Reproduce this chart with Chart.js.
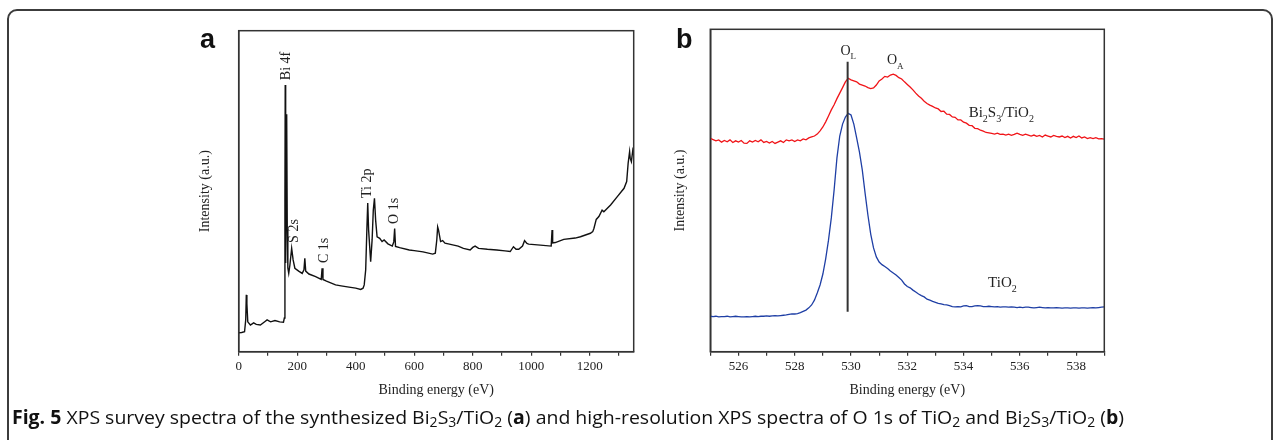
<!DOCTYPE html>
<html>
<head>
<meta charset="utf-8">
<script src="https://cdn.jsdelivr.net/npm/chart.js@4.4.1/dist/chart.umd.min.js"></script>
<style>
html,body{margin:0;padding:0;background:#fff;width:1281px;height:440px;overflow:hidden;position:relative;}
#frame{position:absolute;left:7px;top:8.5px;width:1266px;height:470px;border:2px solid #3c3c3c;border-radius:10px;box-sizing:border-box;}
#ca{position:absolute;left:160px;top:0;}
#cb{position:absolute;left:640px;top:0;}
.plbl{position:absolute;font-family:"Liberation Sans",Arial,sans-serif;font-weight:bold;font-size:27px;line-height:27px;color:#111;}
#caption{position:absolute;left:12px;top:406px;font-family:"Open Sans",sans-serif;font-size:19px;line-height:22px;white-space:nowrap;transform-origin:0 0;color:#111;}
#caption sub{font-size:0.72em;vertical-align:-0.22em;line-height:0;}
</style>
</head>
<body>
<div id="frame"></div>
<canvas id="ca" width="500" height="410"></canvas>
<canvas id="cb" width="500" height="410"></canvas>
<div class="plbl" style="left:200px;top:26px;">a</div>
<div class="plbl" style="left:676px;top:26px;">b</div>
<div id="caption"><b>Fig. 5</b> XPS survey spectra of the synthesized Bi<sub>2</sub>S<sub>3</sub>/TiO<sub>2</sub> (<b>a</b>) and high-resolution XPS spectra of O 1s of TiO<sub>2</sub> and Bi<sub>2</sub>S<sub>3</sub>/TiO<sub>2</sub> (<b>b</b>)</div>
<script>
// ---------- Panel a: XPS survey ----------
const surveyEnergy = [0,10,20,24,26,28,31,40,51,60,74,90,97,109,124,140,153,156,158,159,160,161,162,164,166,168,171,175,181,186,192,205,217,223,226,229,240,263,282,285,288,300,331,350,377,400,417,425,429,434,438,441,444,451,456,460,464,468,473,482,490,497,510,525,530,533,536,550,583,600,630,663,672,677,680,683,690,697,705,720,750,768,791,800,808,820,850,882,910,928,939,948,957,970,977,985,991,1031,1068,1071,1073,1082,1111,1150,1168,1202,1210,1214,1222,1231,1242,1248,1271,1294,1317,1326,1331,1336,1338,1342,1347,1350];
const surveyIntensity = [5.9,6.0,6.2,9.9,17.7,14.9,9.3,8.3,9.0,8.5,8.3,9.4,9.9,9.3,9.7,9.3,9.2,10.5,47.3,83.1,34.8,27.6,47.3,74.0,37.9,26.1,24.4,27.0,32.2,28.6,26.0,25.1,24.4,25.5,29.1,25.1,24.2,23.4,22.5,26.0,22.5,22.0,20.8,20.5,20.1,19.8,19.4,19.8,20.8,25.5,37.9,46.3,37.9,28.0,34.9,44.1,47.8,41.0,35.8,35.3,34.3,34.8,33.6,32.9,34.2,38.4,32.8,32.4,31.7,31.5,31.1,30.4,30.7,34.8,38.9,37.9,34.3,34.6,33.8,33.5,32.9,32.2,31.7,32.5,32.9,32.2,31.9,31.7,31.4,31.2,32.7,31.9,31.9,32.9,34.6,33.7,33.5,33.2,32.9,37.9,33.9,34.0,35.0,35.4,35.8,36.9,37.4,38.4,41.2,42.1,44.1,43.6,45.7,48.3,50.9,53.0,58.7,62.3,60.3,59.2,62.8,61.9];
const surveyTickValues = [0,200,400,600,800,1000,1200];
const surveyPeakLabels = ['Bi 4f','S 2s','C 1s','Ti 2p','O 1s'];
const surveyPeakEnergy = [163.5,191,291.4,440.2,531.4];
const surveyPeakLabelLevel = [84.6,33.9,27.6,47.9,39.8];

// ---------- Panel b: O 1s high resolution ----------
const o1sEnergy = [525.0,525.1,525.2,525.3,525.4,525.5,525.6,525.7,525.8,525.9,
526.0,526.1,526.2,526.3,526.4,526.5,526.6,526.7,526.8,526.9,
527.0,527.1,527.2,527.3,527.4,527.5,527.6,527.7,527.8,527.9,
528.0,528.1,528.2,528.3,528.4,528.5,528.6,528.7,528.8,528.9,
529.0,529.1,529.2,529.3,529.4,529.5,529.6,529.7,529.8,529.9,
530.0,530.1,530.2,530.3,530.4,530.5,530.6,530.7,530.8,530.9,
531.0,531.1,531.2,531.3,531.4,531.5,531.6,531.7,531.8,531.9,
532.0,532.1,532.2,532.3,532.4,532.5,532.6,532.7,532.8,532.9,
533.0,533.1,533.2,533.3,533.4,533.5,533.6,533.7,533.8,533.9,
534.0,534.1,534.2,534.3,534.4,534.5,534.6,534.7,534.8,534.9,
535.0,535.1,535.2,535.3,535.4,535.5,535.6,535.7,535.8,535.9,
536.0,536.1,536.2,536.3,536.4,536.5,536.6,536.7,536.8,536.9,
537.0,537.1,537.2,537.3,537.4,537.5,537.6,537.7,537.8,537.9,
538.0,538.1,538.2,538.3,538.4,538.5,538.6,538.7,538.8,538.9,
539.0];
const bi2s3TiO2 = [66.2,65.8,65.4,65.7,65.0,65.5,65.1,65.7,64.9,65.4,
65.0,65.5,64.7,64.6,65.4,65.0,65.5,65.1,65.7,64.9,
65.2,64.7,65.2,64.6,65.0,65.4,64.9,65.7,65.4,65.7,
65.2,65.7,65.4,66.0,65.7,66.3,66.6,66.9,67.5,68.5,
69.7,71.3,73.1,75.0,76.6,78.5,80.2,81.9,83.7,84.8,
84.3,84.0,83.7,83.0,82.7,82.4,81.9,81.6,81.8,82.7,
84.0,84.6,85.4,85.2,85.8,86.1,85.7,85.0,84.6,83.7,
82.9,82.1,81.2,80.2,79.3,78.6,77.7,77.0,76.5,76.1,
75.6,75.3,74.5,74.6,73.7,73.6,72.8,72.7,71.9,71.9,
71.2,70.9,70.2,70.1,69.3,69.2,68.7,68.4,68.0,67.9,
67.7,67.5,67.8,67.4,67.5,67.2,67.5,67.1,67.4,67.8,
67.4,67.1,67.5,67.2,66.9,67.2,66.8,67.1,66.6,67.2,
66.9,66.6,67.1,66.8,66.6,66.9,66.4,66.8,66.3,66.8,
66.4,66.9,66.3,66.6,66.1,66.4,66.1,66.4,66.0,66.1,
65.9];
const tiO2 = [11.0,10.9,11.0,10.8,10.9,10.9,11.0,10.8,10.9,11.0,
10.9,10.8,10.8,10.9,10.8,10.9,11.0,10.9,11.0,11.0,
11.1,11.0,11.1,11.2,11.1,11.2,11.3,11.4,11.6,11.7,
11.7,11.8,12.1,12.5,12.9,13.6,14.5,16.0,18.2,20.7,
24.1,28.8,34.6,41.5,50.2,60.1,66.9,70.6,72.8,73.9,
73.4,70.6,66.3,61.9,56.4,49.2,42.4,36.5,32.2,29.4,
27.8,27.0,26.4,25.8,25.0,24.4,23.8,23.0,22.2,21.0,
20.2,19.8,19.1,18.5,17.9,17.4,17.0,16.3,16.0,15.6,
15.3,15.0,14.8,14.6,14.5,14.3,14.0,13.9,14.0,13.9,
14.2,14.3,14.0,14.0,14.2,14.3,14.2,14.0,14.0,14.1,
14.0,13.9,14.0,13.8,13.9,13.9,13.8,13.9,13.8,13.7,
13.8,13.7,13.8,13.8,13.7,13.6,13.7,13.8,13.7,13.6,
13.7,13.6,13.6,13.7,13.6,13.5,13.6,13.6,13.5,13.6,
13.6,13.5,13.6,13.6,13.5,13.6,13.7,13.6,13.7,13.8,
13.9];
const latticeOxygenEnergy = 529.88;
const latticeMarkerRange = [12.4, 89.9];
const o1sTickValues = [526,528,530,532,534,536,538];

// ---------- helpers ----------
const SERIF = '"Liberation Serif","Times New Roman",serif';
const INK = '#222';

function pts(xs, ys){ return xs.map((x,i)=>({x:x, y:ys[i]})); }

const boxPlugin = {
  id:'box',
  afterDraw(chart){
    const a = chart.chartArea, c = chart.ctx;
    c.save(); c.strokeStyle = '#333'; c.lineWidth = 1.5;
    c.strokeRect(a.left, a.top, a.right - a.left, a.bottom - a.top);
    c.restore();
  }
};

function drawRich(c, parts, x, y, size, align){
  const subSize = Math.round(size*0.66);
  let w = 0;
  parts.forEach(p=>{ c.font = (p[1]?subSize:size)+'px '+SERIF; w += c.measureText(p[0]).width; });
  let cx = align === 'center' ? x - w/2 : x;
  c.textAlign = 'left'; c.textBaseline = 'alphabetic';
  parts.forEach(p=>{
    c.font = (p[1]?subSize:size)+'px '+SERIF;
    c.fillText(p[0], cx, p[1] ? y + size*0.3 : y);
    cx += c.measureText(p[0]).width;
  });
}

const surveyLabelPlugin = {
  id:'surveyLabels',
  afterDatasetsDraw(chart){
    const c = chart.ctx, xs = chart.scales.x, ys = chart.scales.y;
    c.save(); c.fillStyle = INK; c.font = '14px '+SERIF;
    surveyPeakLabels.forEach((t,i)=>{
      const px = xs.getPixelForValue(surveyPeakEnergy[i]);
      const py = ys.getPixelForValue(surveyPeakLabelLevel[i]);
      c.save(); c.translate(px, py); c.rotate(-Math.PI/2);
      c.textAlign = 'left'; c.textBaseline = 'middle';
      c.fillText(t, 0, 0); c.restore();
    });
    c.restore();
  }
};

const o1sLabels = [
  {parts:[['O',0],['L',1]], e:529.9, v:92.0, size:14},
  {parts:[['O',0],['A',1]], e:531.57, v:89.1, size:14},
  {parts:[['Bi',0],['2',1],['S',0],['3',1],['/TiO',0],['2',1]], e:535.34, v:72.7, size:15},
  {parts:[['TiO',0],['2',1]], e:535.38, v:20.0, size:15}
];
const o1sLabelPlugin = {
  id:'o1sLabels',
  afterDatasetsDraw(chart){
    const c = chart.ctx, xs = chart.scales.x, ys = chart.scales.y;
    c.save(); c.fillStyle = INK;
    o1sLabels.forEach(l=>{
      drawRich(c, l.parts, xs.getPixelForValue(l.e), ys.getPixelForValue(l.v), l.size, 'center');
    });
    c.restore();
  }
};

function xAxis(min, max, step, labelEvery, yTitlePad){
  return {
    type:'linear', min:min, max:max,
    ticks:{stepSize:step, includeBounds:false, autoSkip:false, maxRotation:0, minRotation:0, padding:3,
      color:INK, font:{family:SERIF, size:13},
      callback:(v)=> (Math.round(v) % labelEvery === 0 ? String(v) : '')},
    grid:{drawOnChartArea:false, drawTicks:true, tickLength:4, color:'#333', lineWidth:1.2},
    border:{display:true, color:'#333', width:1.5},
    title:{display:true, text:'Binding energy (eV)', color:INK, font:{family:SERIF, size:14}, padding:{top:0, bottom:yTitlePad}},
    afterFit:(s)=>{ s.height = 58.3; }
  };
}
function yAxis(width, titlePad){
  return {
    type:'linear', min:0, max:100,
    ticks:{display:false}, grid:{display:false},
    border:{display:true, color:'#333', width:1.5},
    title:{display:true, text:'Intensity (a.u.)', color:INK, font:{family:SERIF, size:14}, padding:{top:titlePad, bottom:0}},
    afterFit:(s)=>{ s.width = width; }
  };
}

Chart.defaults.font.family = SERIF;

new Chart(document.getElementById('ca'), {
  type:'scatter',
  data:{datasets:[{
    data: pts(surveyEnergy, surveyIntensity), showLine:true,
    borderColor:'#111', borderWidth:1.4, pointRadius:0, tension:0
  }]},
  options:{
    responsive:false, animation:false, devicePixelRatio:1,
    layout:{padding:{left:0, top:30.7, right:26.3, bottom:0}},
    plugins:{legend:{display:false}, tooltip:{enabled:false}},
    scales:{ x:xAxis(0,1350,100,200,11.6), y:yAxis(78.7, 36.6) }
  },
  plugins:[boxPlugin, surveyLabelPlugin]
});

new Chart(document.getElementById('cb'), {
  type:'scatter',
  data:{datasets:[
    {data: pts([latticeOxygenEnergy, latticeOxygenEnergy], latticeMarkerRange), showLine:true,
     borderColor:'#333', borderWidth:2, pointRadius:0, order:0},
    {data: pts(o1sEnergy, bi2s3TiO2), showLine:true, borderColor:'#f01418', borderWidth:1.3, pointRadius:0, tension:0, order:1},
    {data: pts(o1sEnergy, tiO2), showLine:true, borderColor:'#1f3fa5', borderWidth:1.3, pointRadius:0, tension:0, order:2}
  ]},
  options:{
    responsive:false, animation:false, devicePixelRatio:1,
    layout:{padding:{left:0, top:29.3, right:35.7, bottom:0}},
    plugins:{legend:{display:false}, tooltip:{enabled:false}},
    scales:{ x:xAxis(525,539,1,2,11.6), y:yAxis(70.3, 31.6) }
  },
  plugins:[boxPlugin, o1sLabelPlugin]
});

// fit caption to the reference line length
(function(){
  const cap = document.getElementById('caption');
  const w = cap.getBoundingClientRect().width;
  cap.style.transform = 'scaleX(' + (1112 / w).toFixed(4) + ')';
})();
</script>
</body>
</html>
